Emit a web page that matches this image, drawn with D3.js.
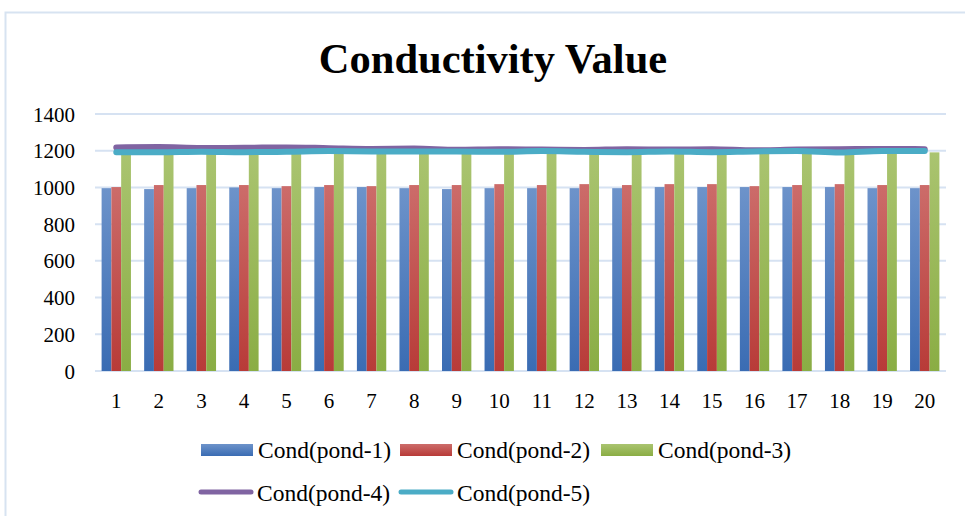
<!DOCTYPE html>
<html>
<head>
<meta charset="utf-8">
<script src="https://cdn.jsdelivr.net/npm/d3@7"></script>
<style>
  body { margin: 0; background: #fff; }
  svg { display: block; font-family: "Liberation Serif", "Times New Roman", serif; }
  svg text { font-family: "Liberation Serif", "Times New Roman", serif; }
</style>
</head>
<body>
<div id="chart"></div>
<script>
// data
const days = d3.range(1, 21).map(String);
const pond1 = [996, 991, 996, 1000, 996, 1002, 1002, 996, 991, 996, 996, 996, 996, 1002, 1002, 1002, 1002, 1002, 996, 996];
const pond2 = [1002, 1013, 1013, 1013, 1007, 1013, 1007, 1013, 1013, 1018, 1013, 1018, 1013, 1018, 1018, 1007, 1013, 1018, 1013, 1013];
const pond3 = [1188, 1190, 1186, 1190, 1188, 1192, 1190, 1188, 1190, 1186, 1190, 1188, 1190, 1188, 1186, 1190, 1188, 1186, 1190, 1191];
const pond4 = [1218, 1220, 1215, 1216, 1218, 1214, 1210, 1212, 1205, 1208, 1206, 1204, 1208, 1206, 1208, 1202, 1206, 1208, 1210, 1208];
const pond5 = [1192, 1192, 1195, 1192, 1194, 1198, 1196, 1196, 1196, 1194, 1198, 1194, 1192, 1196, 1192, 1196, 1198, 1190, 1198, 1198];
const yTicks = [0, 200, 400, 600, 800, 1000, 1200, 1400];

const barSeries = [
  { name: "Cond(pond-1)", values: pond1, top: "#6d93ca", bottom: "#3a6cb3" },
  { name: "Cond(pond-2)", values: pond2, top: "#cc6c6a", bottom: "#b83b38" },
  { name: "Cond(pond-3)", values: pond3, top: "#aac470", bottom: "#8aad44" }
];
const lineSeries = [
  { name: "Cond(pond-4)", values: pond4, color: "#8064a2" },
  { name: "Cond(pond-5)", values: pond5, color: "#4bacc6" }
];

const width = 965, height = 516;
const marginLeft = 95, marginRight = 19, marginTop = 114, plotBottom = 371;
const serif = "Liberation Serif, Times New Roman, serif";

const svg = d3.select("#chart").append("svg")
  .attr("width", width)
  .attr("height", height);

// chart area border (only top and left visible)
svg.append("rect")
  .attr("x", 5.5).attr("y", 12.5)
  .attr("width", 990).attr("height", 540)
  .attr("fill", "none")
  .attr("stroke", "#d7e3f1")
  .attr("stroke-width", 2);

// gradients for the bars
const defs = svg.append("defs");
barSeries.forEach((s, i) => {
  const g = defs.append("linearGradient")
    .attr("id", "grad" + i)
    .attr("x1", 0).attr("y1", 0).attr("x2", 0).attr("y2", 1);
  g.append("stop").attr("offset", "0%").attr("stop-color", s.top);
  g.append("stop").attr("offset", "100%").attr("stop-color", s.bottom);
});

const x = d3.scaleBand()
  .domain(days)
  .range([marginLeft, width - marginRight]);

const y = d3.scaleLinear()
  .domain([0, 1400])
  .range([plotBottom, marginTop]);

// bar sizing: three bars + gap inside each band
const gapRatio = 1.35;
const barW = x.bandwidth() / (3 + gapRatio);
const x1 = d3.scaleBand()
  .domain(d3.range(3))
  .range([barW * gapRatio / 2, barW * gapRatio / 2 + barW * 3]);

// title
svg.append("text")
  .text("Conductivity Value")
  .attr("x", 493)
  .attr("y", 73)
  .attr("text-anchor", "middle")
  .attr("font-family", serif)
  .attr("font-size", "42.5px")
  .attr("font-weight", "bold")
  .attr("fill", "#000");

// gridlines
svg.append("g")
  .selectAll("line")
  .data(yTicks)
  .join("line")
  .attr("x1", marginLeft)
  .attr("x2", width - marginRight)
  .attr("y1", d => y(d))
  .attr("y2", d => y(d))
  .attr("stroke", "#d6e2f2")
  .attr("stroke-width", 2);

// y axis labels
const yAxis = d3.axisLeft(y).tickValues(yTicks).tickFormat(d3.format("d")).tickSize(0).tickPadding(0);
const yG = svg.append("g")
  .attr("transform", `translate(75,0)`)
  .call(yAxis);
yG.select(".domain").remove();
yG.selectAll("text")
  .attr("font-size", "21px")
  .attr("font-family", serif)
  .attr("fill", "#000")
  .attr("dy", "0.34em");

// bars
barSeries.forEach((s, i) => {
  svg.append("g")
    .attr("fill", `url(#grad${i})`)
    .selectAll("rect")
    .data(s.values)
    .join("rect")
    .attr("x", (d, j) => x(days[j]) + x1(i))
    .attr("width", barW)
    .attr("y", d => y(d))
    .attr("height", d => y(0) - y(d));
});

// lines
const line = d3.line()
  .x((d, j) => x(days[j]) + x.bandwidth() / 2)
  .y(d => y(d))
  .curve(d3.curveMonotoneX);

lineSeries.forEach(s => {
  svg.append("path")
    .datum(s.values)
    .attr("d", line)
    .attr("fill", "none")
    .attr("stroke", s.color)
    .attr("stroke-width", 6)
    .attr("stroke-linecap", "round")
    .attr("stroke-linejoin", "round");
});

// x axis labels
const xAxis = d3.axisBottom(x).tickSize(0).tickPadding(0);
const xG = svg.append("g")
  .attr("transform", `translate(0,${plotBottom})`)
  .call(xAxis);
xG.select(".domain").remove();
xG.selectAll("text")
  .attr("font-size", "21px")
  .attr("font-family", serif)
  .attr("fill", "#000")
  .attr("dy", null)
  .attr("y", 37);

// legend
const legendItems = [
  { s: barSeries[0], type: "bar", x: 201, y: 458 },
  { s: barSeries[1], type: "bar", x: 400, y: 458 },
  { s: barSeries[2], type: "bar", x: 601, y: 458 },
  { s: lineSeries[0], type: "line", x: 200, y: 501 },
  { s: lineSeries[1], type: "line", x: 400, y: 501 }
];
const legend = svg.append("g");
legendItems.forEach(item => {
  const g = legend.append("g");
  if (item.type === "bar") {
    const i = barSeries.indexOf(item.s);
    g.append("rect")
      .attr("x", item.x).attr("y", item.y - 14)
      .attr("width", 52).attr("height", 12)
      .attr("fill", `url(#grad${i})`);
  } else {
    g.append("line")
      .attr("x1", item.x + 1).attr("x2", item.x + 51)
      .attr("y1", item.y - 9).attr("y2", item.y - 9)
      .attr("stroke", item.s.color)
      .attr("stroke-width", 5)
      .attr("stroke-linecap", "round");
  }
  g.append("text")
    .text(item.s.name)
    .attr("x", item.x + 57)
    .attr("y", item.y)
    .attr("font-family", serif)
    .attr("font-size", "23.5px")
    .attr("fill", "#000");
});
</script>
</body>
</html>
